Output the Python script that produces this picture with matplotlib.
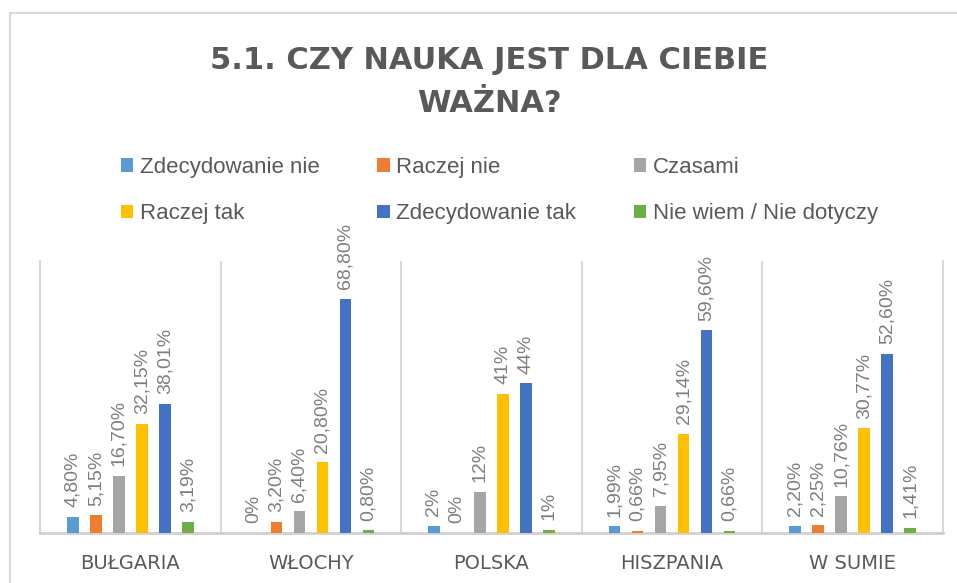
import matplotlib
matplotlib.use("Agg")
import matplotlib.pyplot as plt
from matplotlib.patches import Patch, Rectangle
import numpy as np

plt.rcParams['font.family'] = ['Liberation Sans', 'DejaVu Sans']

categories = ["BUŁGARIA", "WŁOCHY", "POLSKA", "HISZPANIA", "W SUMIE"]
series_names = ["Zdecydowanie nie", "Raczej nie", "Czasami",
                "Raczej tak", "Zdecydowanie tak", "Nie wiem / Nie dotyczy"]
zdecydowanie_nie = [4.80, 0.00, 2.00, 1.99, 2.20]
raczej_nie = [5.15, 3.20, 0.00, 0.66, 2.25]
czasami = [16.70, 6.40, 12.00, 7.95, 10.76]
raczej_tak = [32.15, 20.80, 41.00, 29.14, 30.77]
zdecydowanie_tak = [38.01, 68.80, 44.00, 59.60, 52.60]
nie_wiem = [3.19, 0.80, 1.00, 0.66, 1.41]
series_values = [zdecydowanie_nie, raczej_nie, czasami, raczej_tak, zdecydowanie_tak, nie_wiem]
colors = ["#5B9BD5", "#ED7D31", "#A5A5A5", "#FFC000", "#4472C4", "#70AD47"]

title = "5.1. CZY NAUKA JEST DLA CIEBIE\nWAŻNA?"


def fmt(v):
    if float(v).is_integer():
        return "%d%%" % int(v)
    return ("%.2f%%" % v).replace(".", ",")


W, H = 957, 583
fig = plt.figure(figsize=(W / 100, H / 100), dpi=100)
fig.patch.set_facecolor("white")

# outer frame (top and left edges visible)
fig.add_artist(Rectangle((10 / W, -0.1), 1.2, (H - 13) / H + 0.1, transform=fig.transFigure,
                         fill=False, edgecolor="#d9d9d9", linewidth=1.5, clip_on=False))

ax = fig.add_axes([40 / W, 1 - 533 / H, 903 / W, 272 / H])
x = np.arange(len(categories))
slot = 0.1274
bw = 0.064
for i, (vals, col) in enumerate(zip(series_values, colors)):
    pos = x + (i - 2.5) * slot
    bars = ax.bar(pos, vals, width=bw, color=col, zorder=3, label=series_names[i])
    for b, v in zip(bars, vals):
        ax.annotate(fmt(v), (b.get_x() + b.get_width() / 2, v), xytext=(0, 7),
                    textcoords="offset points", rotation=90, ha="center", va="bottom",
                    fontsize=14, color="#7f7f7f")

ax.set_xlim(-0.5, len(categories) - 0.5)
ax.set_ylim(0, 80)
ax.set_yticks([])
ax.set_xticks(x)
ax.set_xticklabels(categories, fontsize=14, color="#595959", family=["DejaVu Sans"])
ax.tick_params(axis="x", length=0, pad=15)
for s in ["left", "right"]:
    ax.spines[s].set_color("#d9d9d9")
    ax.spines[s].set_linewidth(1.5)
ax.spines["top"].set_visible(False)
ax.spines["bottom"].set_color("#d0d0d0")
ax.spines["bottom"].set_linewidth(2)
for b in np.arange(0.5, len(categories) - 0.5, 1.0):
    ax.axvline(b, color="#d9d9d9", linewidth=1.5, zorder=1)

fig.text(489 / W, 1 - 82 / H, title, ha="center", va="center", fontsize=22,
         fontweight="bold", color="#595959", linespacing=1.62, family=["DejaVu Sans"])

handles = [Patch(facecolor=c, edgecolor="none") for c in colors]
order = [0, 3, 1, 4, 2, 5]
leg = fig.legend([handles[i] for i in order], [series_names[i] for i in order],
                 ncol=3, loc="center left", bbox_to_anchor=(121 / W, 1 - 190.5 / H),
                 frameon=False, fontsize=16, handlelength=0.55, handleheight=0.55,
                 handletextpad=0.3, columnspacing=2.6, labelspacing=1.15,
                 borderpad=0, borderaxespad=0, labelcolor="#595959")

fig.savefig("out.png", dpi=100, facecolor="white")
